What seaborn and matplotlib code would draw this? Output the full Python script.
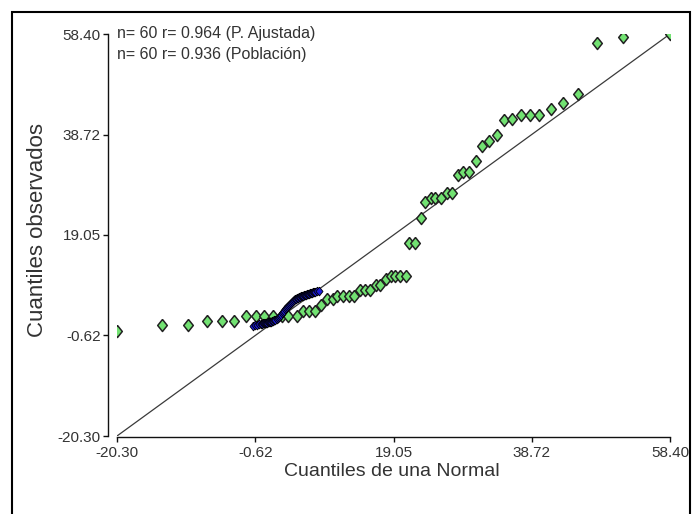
import matplotlib
matplotlib.use("Agg")
import matplotlib.pyplot as plt
from matplotlib.markers import MarkerStyle
from matplotlib.patches import Rectangle
import pandas as pd
import seaborn as sns

# Q-Q data
ticks = [-20.30, -0.62, 19.05, 38.72, 58.40]
label_x = 'Cuantiles de una Normal'
label_y = 'Cuantiles observados'
note_1 = 'n= 60 r= 0.964 (P. Ajustada)'
note_2 = 'n= 60 r= 0.936 (Población)'

ajustada_x = [-20.30, -13.90, -10.20, -7.49, -5.36, -3.65, -1.94, -0.52, 0.62, 1.90,
              3.18, 4.03, 5.32, 6.17, 7.02, 7.88, 8.73, 9.58, 10.44, 11.01,
              11.86, 12.72, 13.43, 14.28, 14.99, 15.70, 16.56, 17.13, 17.98, 18.69,
              19.26, 19.97, 20.83, 21.25, 22.11, 22.96, 23.53, 24.38, 24.95, 25.81,
              26.66, 27.37, 28.23, 28.94, 29.79, 30.79, 31.64, 32.64, 33.78, 34.77,
              35.91, 37.19, 38.47, 39.75, 41.46, 43.17, 45.30, 48.01, 51.71, 58.40]
ajustada_y = [0.26, 1.43, 1.43, 2.21, 2.21, 2.21, 3.19, 3.19, 3.19, 3.19,
              3.19, 3.19, 3.19, 4.17, 4.17, 4.17, 5.35, 6.52, 6.52, 7.11,
              7.11, 7.11, 7.11, 8.28, 8.28, 8.28, 9.26, 9.26, 10.44, 11.02,
              11.02, 11.02, 11.02, 17.48, 17.48, 22.38, 25.51, 26.29, 26.29, 26.29,
              27.27, 27.27, 30.80, 31.38, 31.38, 33.54, 36.47, 37.45, 38.63, 41.56,
              41.76, 42.54, 42.54, 42.54, 43.72, 44.89, 46.65, 56.64, 57.81, 58.40]

poblacion_x = [-0.95, -0.66, -0.38, -0.09, 0.19, 0.33, 0.48, 0.62, 0.76, 0.90,
               1.05, 1.19, 1.33, 1.47, 1.62, 1.76, 1.90, 2.04, 2.18, 2.47,
               2.61, 2.75, 2.90, 3.04, 3.18, 3.32, 3.47, 3.61, 3.75, 3.89,
               4.03, 4.18, 4.32, 4.46, 4.60, 4.75, 4.89, 5.03, 5.17, 5.32,
               5.46, 5.60, 5.74, 5.88, 6.03, 6.17, 6.31, 6.45, 6.60, 6.74,
               6.88, 7.02, 7.16, 7.31, 7.45, 7.59, 7.73, 7.88, 8.16, 8.45]
poblacion_y = [1.23, 1.43, 1.43, 1.63, 1.63, 1.63, 1.82, 1.82, 1.82, 1.82,
               1.82, 2.02, 2.02, 2.02, 2.02, 2.21, 2.21, 2.41, 2.41, 2.61,
               2.80, 3.00, 3.19, 3.39, 3.78, 3.98, 4.17, 4.56, 4.76, 4.95,
               5.15, 5.35, 5.54, 5.74, 5.93, 6.13, 6.32, 6.52, 6.52, 6.72,
               6.72, 6.91, 6.91, 7.11, 7.11, 7.11, 7.30, 7.30, 7.30, 7.50,
               7.50, 7.50, 7.70, 7.70, 7.70, 7.89, 7.89, 7.89, 8.09, 8.09]

df_aj = pd.DataFrame({'x': ajustada_x, 'y': ajustada_y})
df_pob = pd.DataFrame({'x': poblacion_x, 'y': poblacion_y})

sns.set_style('ticks')
plt.rcParams['font.family'] = ['Liberation Sans', 'DejaVu Sans']

# diamond a bit taller than wide, like the squashed original
diamond = MarkerStyle([(0, 1), (0.8, 0), (0, -1), (-0.8, 0), (0, 1)])

fig = plt.figure(figsize=(6.98, 5.14), dpi=100)
ax = fig.add_axes([117 / 698, 78 / 514, 553 / 698, 402 / 514])

ax.axline((0, 0), slope=1, color='#3a3a3a', lw=0.9, zorder=1)
sns.scatterplot(data=df_aj, x='x', y='y', ax=ax, marker=diamond, s=75,
                color='#72e272', edgecolor='#222222', linewidth=1.1, zorder=2)
sns.scatterplot(data=df_pob, x='x', y='y', ax=ax, marker=diamond, s=40,
                color='#1c1cd8', edgecolor='#000000', linewidth=0.6, zorder=3)

ax.set_xlim(ticks[0], ticks[-1])
ax.set_ylim(ticks[0], ticks[-1])
ax.set_xticks(ticks)
ax.set_yticks(ticks)
ax.set_xticklabels([f'{t:.2f}' for t in ticks])
ax.set_yticklabels([f'{t:.2f}' for t in ticks])
ax.set_xlabel('')
ax.set_ylabel('')

for side in ['top', 'right']:
    ax.spines[side].set_visible(False)
ax.spines['left'].set_position(('outward', 6.5))
ax.spines['bottom'].set_position(('outward', 1))
for side in ['left', 'bottom']:
    ax.spines[side].set_linewidth(1.0)
    ax.spines[side].set_color('#111111')
ax.tick_params(direction='out', length=3.6, width=1.0, color='#111111',
               labelsize=11, labelcolor='#333333', pad=1.5)
ax.tick_params(axis='x', pad=2.5)

ax.annotate(note_1, xy=(0, 1), xycoords='axes fraction', xytext=(0, 0.5),
            textcoords='offset points', ha='left', va='center',
            fontsize=11.5, color='#333333')
ax.annotate(note_2, xy=(0, 1), xycoords='axes fraction', xytext=(0, -15),
            textcoords='offset points', ha='left', va='center',
            fontsize=11.5, color='#333333')

fig.text(392 / 698, 1 - 471 / 514, label_x, ha='center', va='center',
         fontsize=14, color='#333333')
fig.text(38 / 698, 1 - 230 / 514, label_y, ha='center', va='center',
         rotation=90, fontsize=16, color='#333333')

# outer frame of the screenshot
fig.patches.append(Rectangle((12 / 698, -0.02), 678 / 698, 1 - 12 / 514 + 0.02,
                             transform=fig.transFigure, fill=False,
                             edgecolor='black', lw=1.5))

fig.savefig('out.png', dpi=100)
